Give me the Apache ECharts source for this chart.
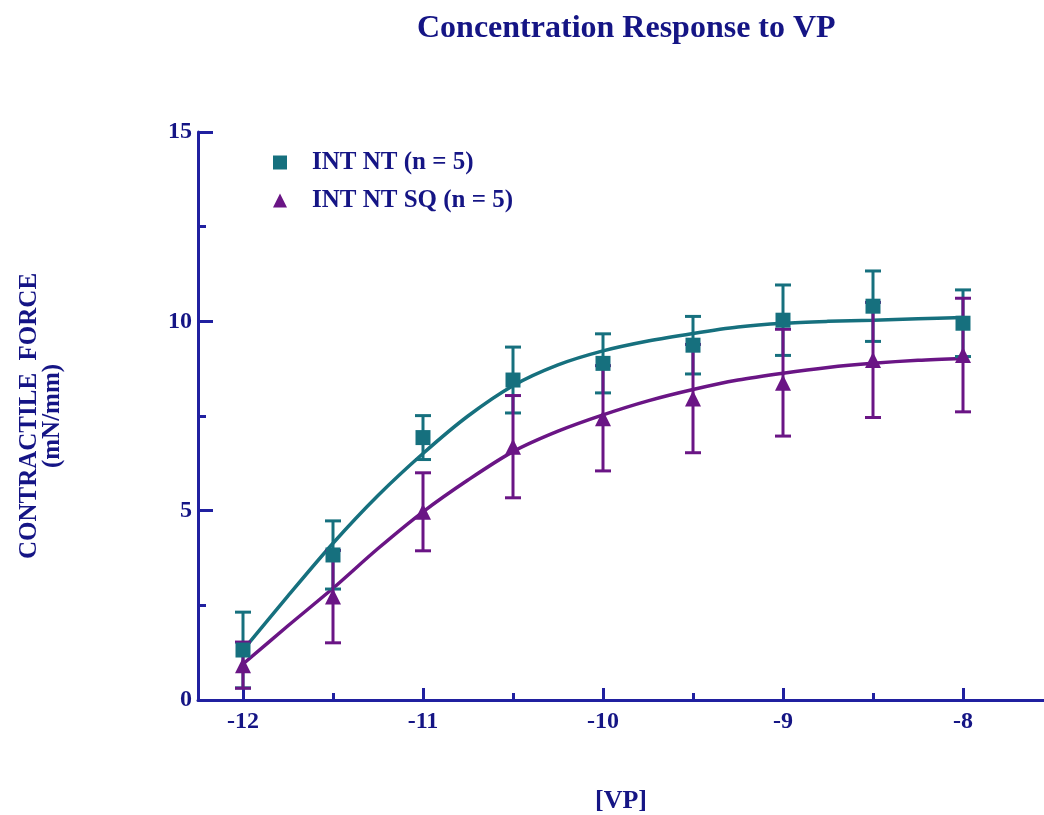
<!DOCTYPE html>
<html>
<head>
<meta charset="utf-8">
<script src="https://cdn.jsdelivr.net/npm/echarts@6/dist/echarts.min.js"></script>
<style>
  html, body { margin: 0; padding: 0; background: #fff; }
</style>
</head>
<body>
<div id="main" style="width: 1044px;height:815px;"></div>
<script>
// doses (log M) and mean +/- SEM
const doses = [-12, -11.5, -11, -10.5, -10, -9.5, -9, -8.5, -8];
const ntMean = [1.32, 3.83, 6.93, 8.45, 8.89, 9.37, 10.03, 10.40, 9.95];
const ntErr = [1.0, 0.9, 0.58, 0.87, 0.78, 0.76, 0.93, 0.93, 0.88];
const sqMean = [0.92, 2.73, 4.97, 6.69, 7.44, 7.96, 8.38, 8.98, 9.11];
const sqErr = [0.61, 1.22, 1.03, 1.35, 1.39, 1.43, 1.41, 1.52, 1.5];

// fitted curves
const curveX = [-12, -11.75, -11.5, -11.25, -11, -10.75, -10.5, -10.25, -10, -9.75, -9.5, -9.25, -9, -8.75, -8.5, -8.25, -8];
const ntCurve = [1.32, 2.75, 4.14, 5.4, 6.51, 7.5, 8.3, 8.85, 9.22, 9.48, 9.68, 9.85, 9.95, 10.0, 10.03, 10.07, 10.1];
const sqCurve = [0.95, 1.96, 2.95, 4.0, 4.97, 5.81, 6.56, 7.1, 7.53, 7.9, 8.2, 8.45, 8.63, 8.78, 8.89, 8.97, 9.02];

const majorTicks = [-12, -11, -10, -9, -8];
const minorTicks = [-11.5, -10.5, -9.5, -8.5];

const teal = '#16707e';
const purple = '#6a1585';
const navy = '#151585';
const axisBlue = '#2020a0';
const serif = '"Liberation Serif", "Times New Roman", serif';

function pairs(xs, ys) {
  return xs.map((x, i) => [x, ys[i]]);
}
function errData(mean, err) {
  return doses.map((x, i) => [x, mean[i] - err[i], mean[i] + err[i]]);
}
function errRender(color) {
  return function (params, api) {
    const top = api.coord([api.value(0), api.value(2)]);
    const bot = api.coord([api.value(0), api.value(1)]);
    const hw = 8;
    const style = { stroke: color, lineWidth: 3 };
    return {
      type: 'group',
      children: [
        { type: 'line', shape: { x1: top[0], y1: top[1], x2: bot[0], y2: bot[1] }, style: style },
        { type: 'line', shape: { x1: top[0] - hw, y1: top[1], x2: top[0] + hw, y2: top[1] }, style: style },
        { type: 'line', shape: { x1: bot[0] - hw, y1: bot[1], x2: bot[0] + hw, y2: bot[1] }, style: style }
      ]
    };
  };
}

let myChart = echarts.init(document.getElementById('main'));
let option = {
  backgroundColor: '#fff',
  animation: false,
  title: {
    text: 'Concentration Response to VP',
    left: 412,
    top: 8,
    textStyle: { fontFamily: serif, fontWeight: 'bold', fontSize: 32, color: navy }
  },
  legend: {
    orient: 'vertical',
    left: 268,
    top: 145,
    itemGap: 13,
    itemWidth: 14,
    itemHeight: 14,
    data: [
      { name: 'INT NT (n = 5)', icon: 'rect', itemStyle: { color: teal } },
      { name: 'INT NT SQ (n = 5)', icon: 'triangle', itemStyle: { color: purple } }
    ],
    textStyle: { fontFamily: serif, fontWeight: 'bold', fontSize: 25, color: navy, padding: [0, 0, 0, 20] }
  },
  grid: {
    left: 198,
    top: 132,
    right: 0,
    bottom: 115,
    containLabel: false,
    outerBoundsMode: 'none'
  },
  xAxis: [{
    type: 'value',
    min: -12.25,
    max: -7.55,
    name: '[VP]',
    nameLocation: 'middle',
    nameGap: 88,
    nameTextStyle: { fontFamily: serif, fontWeight: 'bold', fontSize: 26, color: navy },
    axisLine: { onZero: false, lineStyle: { color: axisBlue, width: 3 } },
    axisTick: { inside: true, length: 12, customValues: majorTicks, lineStyle: { color: axisBlue, width: 3 } },
    axisLabel: { customValues: majorTicks, margin: 10, fontFamily: serif, fontWeight: 'bold', fontSize: 24, color: navy },
    splitLine: { show: false }
  }, {
    type: 'value',
    position: 'bottom',
    min: -12.25,
    max: -7.55,
    axisLine: { show: false },
    axisTick: { inside: true, length: 7, customValues: minorTicks, lineStyle: { color: axisBlue, width: 3 } },
    axisLabel: { show: false },
    splitLine: { show: false }
  }],
  yAxis: {
    type: 'value',
    min: 0,
    max: 15,
    interval: 5,
    name: 'CONTRACTILE  FORCE\n(mN/mm)',
    nameLocation: 'middle',
    nameGap: 134,
    nameTextStyle: { fontFamily: serif, fontWeight: 'bold', fontSize: 25, color: navy, lineHeight: 23 },
    axisLine: { lineStyle: { color: axisBlue, width: 3 } },
    axisTick: { inside: true, length: 15, lineStyle: { color: axisBlue, width: 3 } },
    minorTick: { show: true, splitNumber: 2, length: 8, lineStyle: { color: axisBlue, width: 3 } },
    axisLabel: { margin: 6, fontFamily: serif, fontWeight: 'bold', fontSize: 24, color: navy },
    splitLine: { show: false }
  },
  series: [{
    type: 'line',
    name: 'INT NT fit',
    data: pairs(curveX, ntCurve),
    smooth: 0.3,
    symbol: 'none',
    lineStyle: { color: teal, width: 3.5 },
    z: 2
  }, {
    type: 'line',
    name: 'INT NT SQ fit',
    data: pairs(curveX, sqCurve),
    smooth: 0.3,
    symbol: 'none',
    lineStyle: { color: purple, width: 3.5 },
    z: 2
  }, {
    type: 'custom',
    name: 'INT NT err',
    data: errData(ntMean, ntErr),
    renderItem: errRender(teal),
    z: 3
  }, {
    type: 'custom',
    name: 'INT NT SQ err',
    data: errData(sqMean, sqErr),
    renderItem: errRender(purple),
    z: 3
  }, {
    type: 'scatter',
    name: 'INT NT (n = 5)',
    data: pairs(doses, ntMean),
    symbol: 'rect',
    symbolSize: 15,
    itemStyle: { color: teal, opacity: 1 },
    z: 4
  }, {
    type: 'scatter',
    name: 'INT NT SQ (n = 5)',
    data: pairs(doses, sqMean),
    symbol: 'triangle',
    symbolSize: 16,
    itemStyle: { color: purple, opacity: 1 },
    z: 4
  }]
};
myChart.setOption(option);
</script>
</body>
</html>
